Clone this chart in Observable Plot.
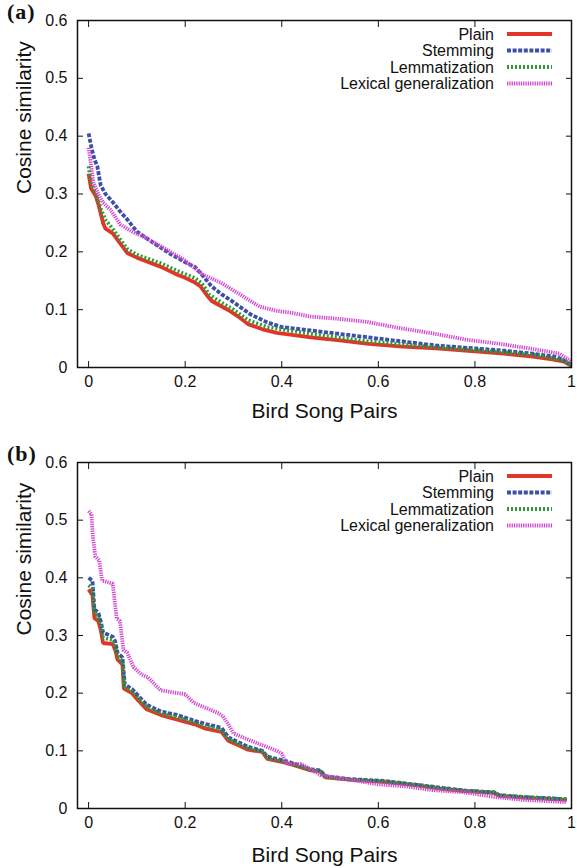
<!DOCTYPE html>
<html>
<head>
<meta charset="utf-8">
<script src="https://cdn.jsdelivr.net/npm/d3@7"></script>
<script src="https://cdn.jsdelivr.net/npm/@observablehq/plot@0.6"></script>
<style>
  body { margin: 0; background: #fff; font-family: "Liberation Sans", Arial, sans-serif; }
  .panel { position: relative; width: 577px; height: 434px; overflow: hidden; }
  .panel svg { display: block; }
  .tag { position: absolute; left: 7px; font-family: "Liberation Serif", "Times New Roman", serif;
         font-weight: bold; font-size: 22px; line-height: 22px; letter-spacing: 1px; color: #111; }
</style>
</head>
<body>
<div id="pa" class="panel"><span class="tag" style="top:1px">(a)</span></div>
<div id="pb" class="panel"><span class="tag" style="top:9px">(b)</span></div>
<script>
// ---------- data ----------
const xTicks = [0, 0.2, 0.4, 0.6, 0.8, 1];
const yTicks = [0, 0.1, 0.2, 0.3, 0.4, 0.5, 0.6];
const seriesNames = ["Plain", "Stemming", "Lemmatization", "Lexical generalization"];
const seriesColors = ["#e3342a", "#3d4fa6", "#2f9a35", "#d04ad0"];
const seriesDash = [undefined, "4,1.6", "2,2", "1.3,1"];
const xLabel = "Bird Song Pairs";
const yLabel = "Cosine similarity";

// panel (a)
const aPlain = [[0,0.335],[0.005,0.31],[0.015,0.296],[0.02,0.283],[0.03,0.25],[0.035,0.24],[0.05,0.232],[0.065,0.215],[0.08,0.198],[0.1,0.19],[0.115,0.185],[0.15,0.174],[0.185,0.16],[0.2,0.155],[0.218,0.148],[0.232,0.14],[0.245,0.125],[0.255,0.115],[0.29,0.099],[0.31,0.088],[0.33,0.075],[0.36,0.066],[0.39,0.06],[0.46,0.052],[0.52,0.047],[0.58,0.041],[0.65,0.036],[0.72,0.033],[0.8,0.028],[0.86,0.024],[0.92,0.019],[0.96,0.014],[0.985,0.01],[1.0,0.003]];
const aStem = [[0,0.405],[0.006,0.38],[0.012,0.36],[0.018,0.348],[0.025,0.315],[0.035,0.3],[0.05,0.286],[0.065,0.27],[0.08,0.256],[0.1,0.235],[0.135,0.215],[0.17,0.196],[0.2,0.182],[0.22,0.174],[0.235,0.16],[0.255,0.14],[0.275,0.127],[0.3,0.113],[0.335,0.092],[0.37,0.078],[0.4,0.07],[0.46,0.064],[0.52,0.058],[0.58,0.052],[0.65,0.045],[0.72,0.038],[0.8,0.033],[0.86,0.029],[0.92,0.024],[0.97,0.018],[0.99,0.01],[1.0,0.004]];
const aLemma = [[0,0.348],[0.005,0.32],[0.015,0.3],[0.025,0.275],[0.035,0.255],[0.05,0.24],[0.065,0.222],[0.08,0.205],[0.1,0.195],[0.15,0.18],[0.195,0.163],[0.22,0.155],[0.235,0.145],[0.25,0.126],[0.27,0.115],[0.3,0.1],[0.33,0.082],[0.37,0.07],[0.46,0.058],[0.58,0.045],[0.72,0.035],[0.85,0.027],[0.93,0.021],[0.98,0.013],[1.0,0.004]];
const aLex = [[0,0.38],[0.005,0.35],[0.01,0.32],[0.02,0.3],[0.03,0.285],[0.045,0.273],[0.066,0.247],[0.09,0.235],[0.114,0.226],[0.149,0.21],[0.196,0.187],[0.238,0.16],[0.273,0.147],[0.32,0.123],[0.355,0.105],[0.39,0.098],[0.424,0.094],[0.46,0.088],[0.507,0.085],[0.576,0.079],[0.645,0.068],[0.713,0.059],[0.783,0.048],[0.851,0.041],[0.92,0.032],[0.975,0.024],[1.0,0.01]];

// panel (b)
const bPlain = [[0,0.38],[0.008,0.37],[0.012,0.33],[0.02,0.325],[0.025,0.31],[0.03,0.287],[0.05,0.285],[0.055,0.275],[0.06,0.258],[0.07,0.25],[0.073,0.208],[0.09,0.2],[0.1,0.19],[0.12,0.172],[0.15,0.162],[0.18,0.155],[0.22,0.146],[0.24,0.139],[0.275,0.133],[0.29,0.117],[0.315,0.108],[0.33,0.102],[0.36,0.098],[0.37,0.086],[0.41,0.079],[0.46,0.066],[0.48,0.064],[0.49,0.054],[0.54,0.05],[0.61,0.046],[0.68,0.04],[0.73,0.034],[0.78,0.03],[0.84,0.027],[0.85,0.022],[0.9,0.019],[0.99,0.015]];
const bStem = [[0,0.4],[0.008,0.395],[0.012,0.345],[0.02,0.34],[0.025,0.325],[0.03,0.305],[0.05,0.298],[0.055,0.29],[0.06,0.27],[0.07,0.262],[0.075,0.215],[0.09,0.207],[0.1,0.198],[0.12,0.18],[0.15,0.168],[0.18,0.163],[0.22,0.152],[0.24,0.147],[0.275,0.14],[0.29,0.123],[0.315,0.113],[0.33,0.107],[0.36,0.1],[0.37,0.09],[0.41,0.082],[0.46,0.068],[0.48,0.066],[0.49,0.056],[0.54,0.051],[0.61,0.048],[0.68,0.041],[0.73,0.036],[0.78,0.031],[0.84,0.028],[0.85,0.023],[0.9,0.02],[0.99,0.016]];
const bLemma = [[0,0.387],[0.008,0.382],[0.012,0.338],[0.02,0.333],[0.025,0.318],[0.03,0.296],[0.05,0.292],[0.055,0.282],[0.06,0.264],[0.07,0.256],[0.074,0.211],[0.09,0.203],[0.1,0.194],[0.12,0.176],[0.15,0.165],[0.18,0.159],[0.22,0.149],[0.24,0.143],[0.275,0.136],[0.29,0.12],[0.315,0.11],[0.33,0.104],[0.36,0.099],[0.37,0.088],[0.41,0.08],[0.46,0.067],[0.48,0.065],[0.49,0.055],[0.54,0.05],[0.61,0.047],[0.68,0.041],[0.73,0.035],[0.78,0.031],[0.84,0.028],[0.85,0.023],[0.9,0.02],[0.99,0.016]];
const bLex = [[0,0.516],[0.006,0.51],[0.009,0.47],[0.014,0.437],[0.022,0.43],[0.028,0.395],[0.05,0.39],[0.058,0.33],[0.065,0.325],[0.072,0.275],[0.08,0.27],[0.093,0.245],[0.11,0.232],[0.122,0.228],[0.149,0.205],[0.2,0.198],[0.218,0.183],[0.27,0.165],[0.278,0.16],[0.29,0.145],[0.3,0.13],[0.335,0.118],[0.39,0.1],[0.4,0.095],[0.41,0.078],[0.44,0.077],[0.46,0.068],[0.48,0.058],[0.54,0.05],[0.6,0.042],[0.66,0.038],[0.71,0.032],[0.78,0.028],[0.84,0.02],[0.9,0.015],[0.99,0.011]];

// ---------- drawing ----------
const fmt = d => String(d);

function legendMark(index, scales, values, dims) {
  const g = d3.create("svg:g");
  const right = dims.width - dims.marginRight;
  seriesNames.forEach((name, i) => {
    const y = dims.marginTop + 14 + 16.5 * i;
    g.append("text")
      .attr("x", right - 77).attr("y", y)
      .attr("text-anchor", "end").attr("dy", "0.35em")
      .attr("font-size", 16).attr("fill", "#111")
      .text(name);
    const ln = g.append("line")
      .attr("x1", right - 64).attr("x2", right - 19)
      .attr("y1", y).attr("y2", y)
      .attr("stroke", seriesColors[i]).attr("stroke-width", 3.8)
      .attr("stroke-linecap", "butt");
    if (seriesDash[i]) ln.attr("stroke-dasharray", seriesDash[i]);
  });
  return g.node();
}

function panel(series, opts) {
  const marks = [];
  series.forEach((pts, i) => {
    marks.push(Plot.line(pts, {
      x: d => d[0], y: d => d[1],
      stroke: seriesColors[i], strokeWidth: 3.8,
      strokeDasharray: seriesDash[i],
      strokeLinecap: "butt", strokeLinejoin: "miter"
    }));
  });
  marks.push(
    Plot.frame({stroke: "#111", strokeWidth: 1.5}),
    // inward ticks on all four sides
    Plot.axisX(xTicks, {anchor: "bottom", tickSize: 6, dy: -6, tickFormat: () => "", label: null, stroke: "#111"}),
    Plot.axisX(xTicks, {anchor: "top", tickSize: 6, dy: 6, tickFormat: () => "", label: null, stroke: "#111"}),
    Plot.axisY(yTicks, {anchor: "left", tickSize: 6, dx: 6, tickFormat: () => "", label: null, stroke: "#111"}),
    Plot.axisY(yTicks, {anchor: "right", tickSize: 6, dx: -6, tickFormat: () => "", label: null, stroke: "#111"}),
    // tick labels
    Plot.axisX(xTicks, {anchor: "bottom", tickSize: 0, tickPadding: 8, tickFormat: fmt, label: null, fontSize: 16, fill: "#111"}),
    Plot.axisY(yTicks, {anchor: "left", tickSize: 0, tickPadding: 10, tickFormat: fmt, label: null, fontSize: 16, fill: "#111"}),
    // axis titles
    Plot.text([xLabel], {frameAnchor: "bottom", dy: opts.xLabelDy, fontSize: 21, fill: "#111", lineAnchor: "middle"}),
    Plot.text([yLabel], {frameAnchor: "left", dx: -53, rotate: -90, fontSize: 21, fill: "#111", lineAnchor: "middle"}),
    legendMark
  );
  return Plot.plot({
    width: 577,
    height: 434,
    marginLeft: 77,
    marginRight: 6,
    marginTop: opts.marginTop,
    marginBottom: opts.marginBottom,
    style: {fontFamily: "'Liberation Sans', Arial, sans-serif", fontSize: "16px", overflow: "visible", background: "transparent"},
    x: {domain: [-0.023, 1]},
    y: {domain: [0, 0.6]},
    marks
  });
}

document.getElementById("pa").appendChild(
  panel([aPlain, aStem, aLemma, aLex], {marginTop: 20, marginBottom: 67, xLabelDy: 44})
);
document.getElementById("pb").appendChild(
  panel([bPlain, bStem, bLemma, bLex], {marginTop: 28, marginBottom: 60, xLabelDy: 47})
);
</script>
</body>
</html>
